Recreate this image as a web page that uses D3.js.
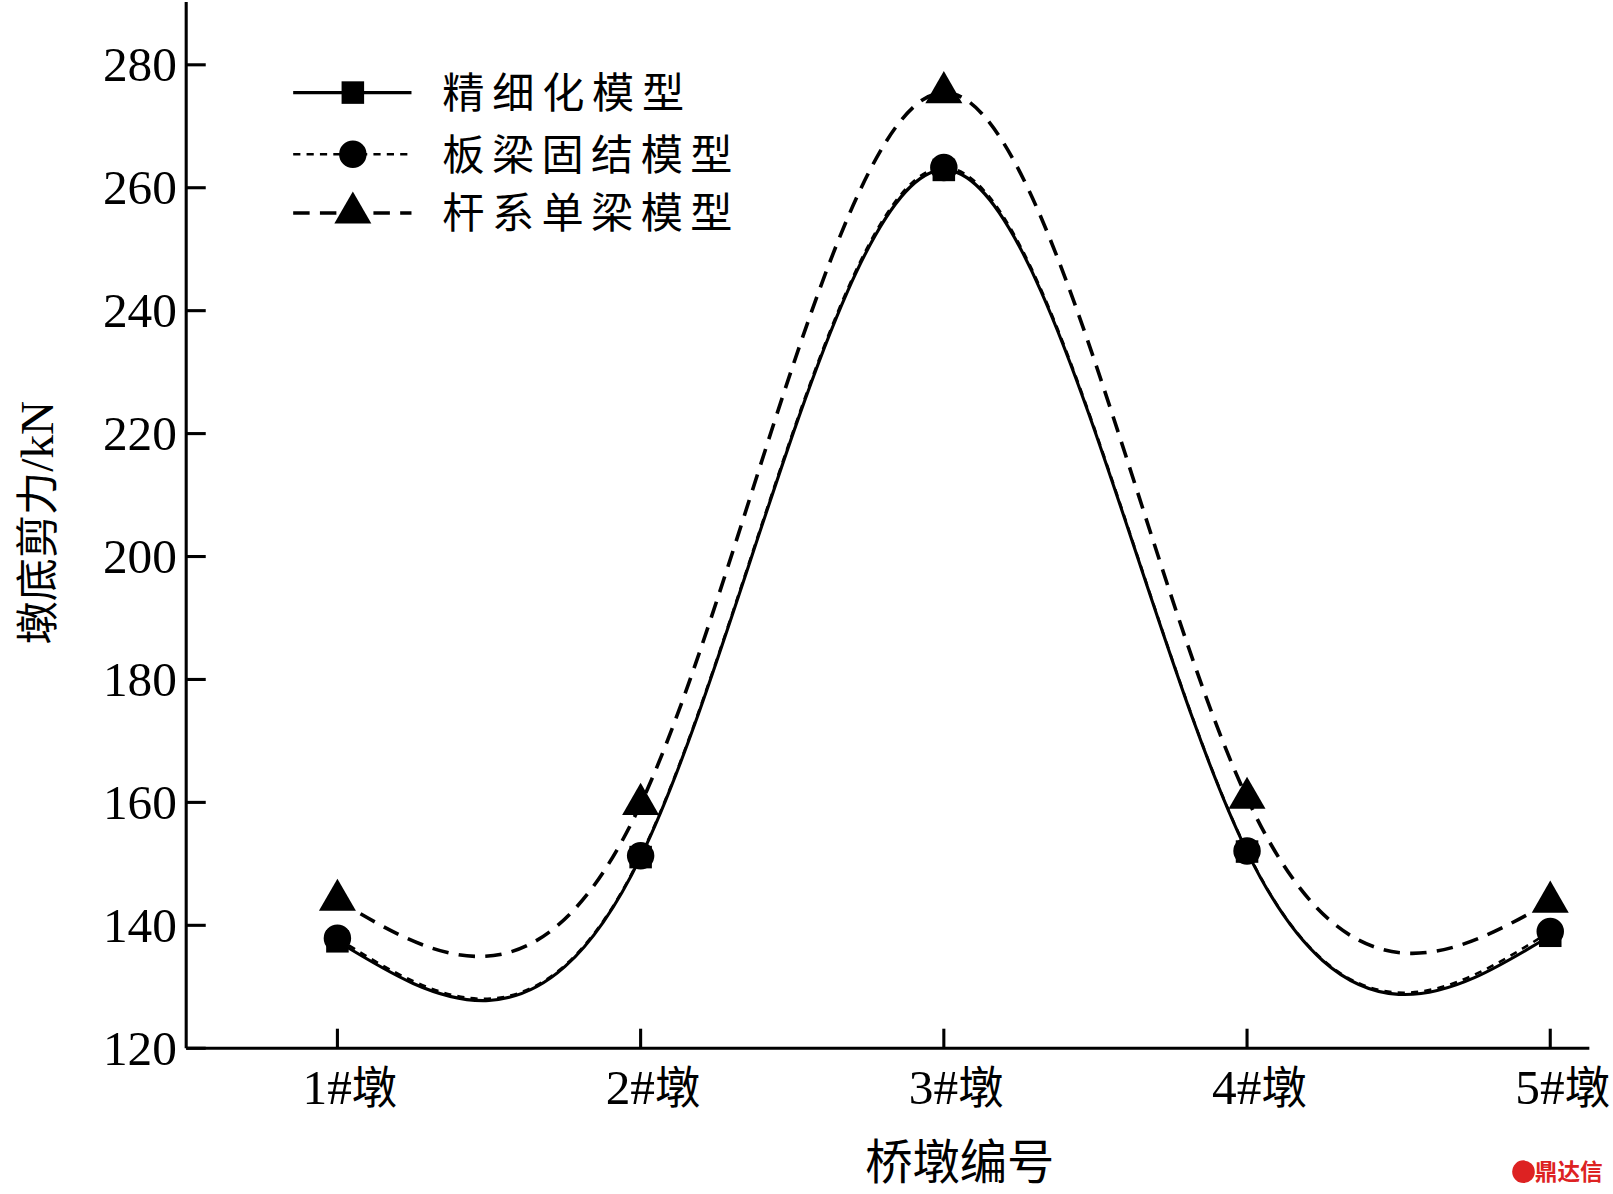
<!DOCTYPE html>
<html><head><meta charset="utf-8">
<script src="https://cdn.jsdelivr.net/npm/d3@7"></script>
<style>body{margin:0;background:#fff}</style></head>
<body><svg id="c" width="1613" height="1194"></svg>
<script>
const categories=["1#墩","2#墩","3#墩","4#墩","5#墩"];
const refined=[137.4,151.1,262.9,152.0,138.3];
const slabFixed=[137.9,151.3,263.3,152.1,139.0];
const beamModel=[144.1,159.7,275.5,160.7,143.8];
const yTicks=[120,140,160,180,200,220,240,260,280];
const seriesNames=["精细化模型","板梁固结模型","杆系单梁模型"];

const svg=d3.select("#c").append("g").attr("transform","scale(1.0287)");
const x=d3.scalePoint().domain(categories).range([328,1507]);
const y=d3.scaleLinear().domain([120,280]).range([1019,63]);
const serif="'Liberation Serif','Times New Roman',serif";
const cjk="'Noto Sans CJK SC',sans-serif";

svg.append("line").attr("x1",181).attr("x2",181).attr("y1",2).attr("y2",1019).attr("stroke","#000").attr("stroke-width",3);
svg.append("line").attr("x1",181).attr("x2",1545).attr("y1",1019).attr("y2",1019).attr("stroke","#000").attr("stroke-width",3);
yTicks.forEach(t=>{
  svg.append("line").attr("x1",181).attr("x2",200).attr("y1",y(t)).attr("y2",y(t)).attr("stroke","#000").attr("stroke-width",3);
  svg.append("text").attr("x",172).attr("y",y(t)+16).attr("text-anchor","end").attr("font-family",serif).attr("font-size",48).text(t);
});
categories.forEach(c=>{
  svg.append("line").attr("x1",x(c)).attr("x2",x(c)).attr("y1",1019).attr("y2",1000).attr("stroke","#000").attr("stroke-width",3);
  const t=svg.append("text").attr("x",x(c)+12).attr("y",1073).attr("text-anchor","middle").attr("font-size",48);
  t.append("tspan").attr("font-family",serif).text(c.slice(0,2));
  t.append("tspan").attr("font-family",cjk).attr("font-size",44).text(c.slice(2));
});
svg.append("text").attr("x",933).attr("y",1146).attr("text-anchor","middle").attr("font-family",cjk).attr("font-size",46).text("桥墩编号");
const yl=svg.append("text").attr("transform","translate(52,508) rotate(-90)").attr("text-anchor","middle").attr("font-size",46);
yl.append("tspan").attr("font-family",cjk).attr("font-size",42).text("墩底剪力");
yl.append("tspan").attr("font-family",serif).text("/kN");

const line=d3.line().x((d,i)=>x(categories[i])).y(d=>y(d)).curve(d3.curveNatural);
const styles=[
  {data:refined,dash:null,w:3},
  {data:slabFixed,dash:"7,6",w:2.5},
  {data:beamModel,dash:"16,10",w:3.5}
];
styles.forEach(s=>svg.append("path").attr("d",line(s.data)).attr("fill","none").attr("stroke","#000").attr("stroke-width",s.w).attr("stroke-dasharray",s.dash));
const sq=d3.symbol().type(d3.symbolSquare).size(480);
const ci=d3.symbol().type(d3.symbolCircle).size(560);
const tr=d3.symbol().type(d3.symbolTriangle).size(560);
refined.forEach((v,i)=>svg.append("path").attr("d",sq()).attr("transform",`translate(${x(categories[i])},${y(v)})`));
slabFixed.forEach((v,i)=>svg.append("path").attr("d",ci()).attr("transform",`translate(${x(categories[i])},${y(v)})`));
beamModel.forEach((v,i)=>svg.append("path").attr("d",tr()).attr("transform",`translate(${x(categories[i])},${y(v)})`));

const ly=[90,150,207];
const syms=[sq,ci,tr];
seriesNames.forEach((n,i)=>{
  svg.append("line").attr("x1",285).attr("x2",400).attr("y1",ly[i]).attr("y2",ly[i]).attr("stroke","#000").attr("stroke-width",styles[i].w).attr("stroke-dasharray",styles[i].dash);
  svg.append("path").attr("d",syms[i]()).attr("transform",`translate(343,${ly[i]})`);
  svg.append("text").attr("x",430).attr("y",ly[i]+15).attr("font-family",cjk).attr("font-size",41).attr("textLength",n.length*47).text(n);
});
svg.append("circle").attr("cx",1481).attr("cy",1139).attr("r",11).attr("fill","#d22");
svg.append("text").attr("x",1558).attr("y",1147).attr("text-anchor","end").attr("font-family",cjk).attr("font-weight","bold").attr("font-size",22).attr("fill","#d22").text("鼎达信");
</script></body></html>
